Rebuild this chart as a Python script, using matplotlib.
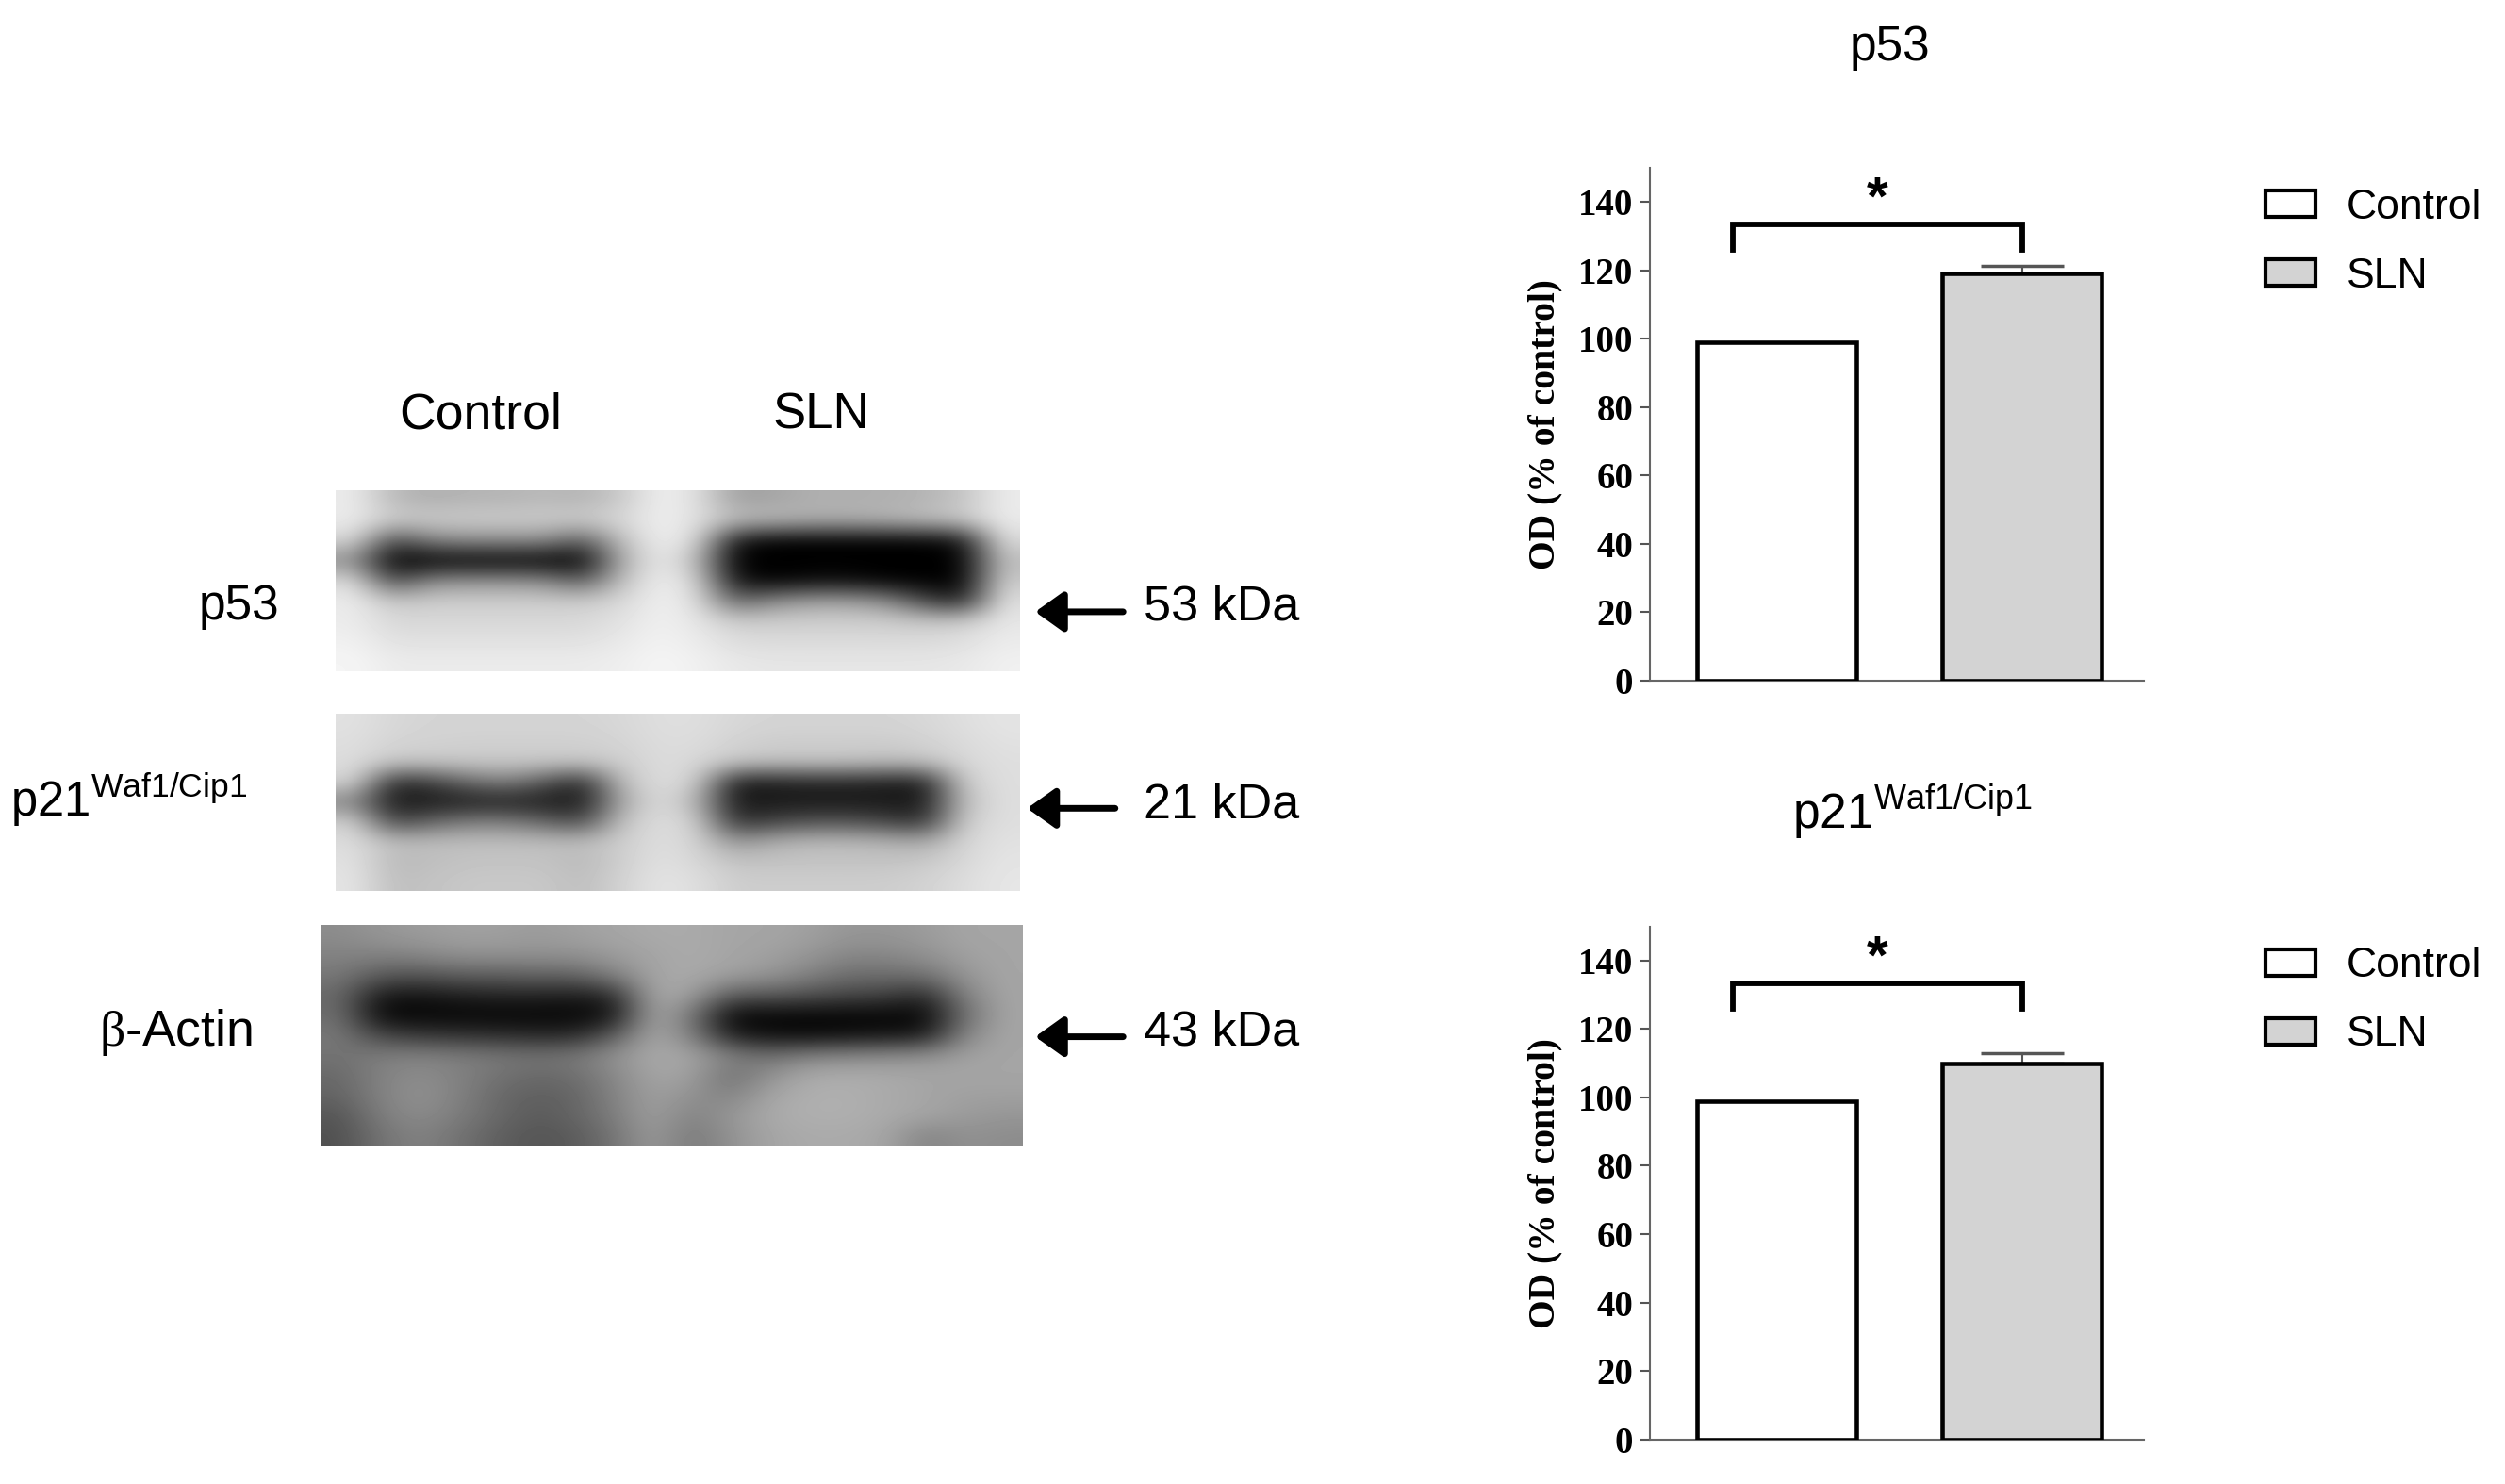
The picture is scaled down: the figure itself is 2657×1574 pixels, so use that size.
import numpy as np
import matplotlib
matplotlib.use('Agg')
import matplotlib.pyplot as plt
from matplotlib.patches import Patch

plt.rcParams['font.family'] = ['Liberation Sans', 'DejaVu Sans']
plt.rcParams['mathtext.fontset'] = 'custom'
plt.rcParams['mathtext.rm'] = 'Liberation Sans'
plt.rcParams['mathtext.sf'] = 'Liberation Serif'

# 막대 데이터
groups = ['Control', 'SLN']
p53_values = [99, 119]
p53_errors = [0, 2.2]
p21_values = [99, 110]
p21_errors = [0, 3]
yticks = [0, 20, 40, 60, 80, 100, 120, 140]
bar_colors = ['white', '#d3d3d3']

# 블롯 밝기값
blot_p53 = [
    [235, 185, 175, 180, 180, 185, 180, 200, 240, 225, 160, 165, 175, 175, 175, 180, 195, 235],
    [235, 205, 205, 205, 205, 205, 205, 215, 240, 225, 190, 185, 175, 175, 180, 190, 200, 235],
    [215, 70, 130, 140, 140, 140, 90, 190, 240, 220, 20, 0, 0, 0, 0, 0, 15, 220],
    [140, 0, 0, 0, 0, 0, 0, 170, 235, 190, 0, 0, 0, 0, 0, 0, 0, 190],
    [220, 70, 140, 145, 145, 140, 90, 190, 240, 215, 20, 0, 10, 10, 0, 0, 0, 205],
    [235, 200, 205, 205, 205, 205, 205, 215, 240, 225, 100, 140, 160, 160, 140, 70, 30, 225],
    [235, 215, 215, 215, 215, 215, 215, 225, 240, 230, 205, 205, 205, 205, 205, 200, 205, 230],
    [240, 225, 225, 225, 225, 225, 225, 232, 242, 235, 220, 218, 218, 218, 218, 218, 222, 235],
    [245, 235, 235, 235, 235, 235, 235, 238, 245, 240, 232, 230, 230, 230, 230, 230, 232, 240],
]
blot_p21 = [
    [225, 215, 212, 212, 212, 212, 212, 215, 222, 222, 215, 212, 212, 212, 212, 215, 222, 228],
    [222, 212, 210, 208, 208, 208, 208, 212, 220, 220, 210, 205, 205, 205, 205, 210, 218, 225],
    [220, 200, 200, 200, 200, 200, 200, 205, 220, 215, 200, 195, 195, 195, 190, 195, 215, 222],
    [215, 40, 60, 105, 125, 85, 35, 190, 222, 210, 25, 30, 35, 35, 30, 25, 205, 222],
    [130, 25, 25, 28, 30, 28, 25, 165, 222, 180, 25, 25, 25, 25, 25, 25, 190, 222],
    [210, 65, 100, 125, 125, 100, 70, 195, 222, 210, 45, 65, 80, 80, 65, 45, 205, 222],
    [220, 190, 190, 190, 190, 190, 190, 205, 222, 212, 150, 175, 185, 185, 180, 170, 212, 225],
    [225, 185, 190, 195, 195, 195, 185, 205, 225, 215, 195, 195, 195, 195, 195, 200, 215, 228],
    [228, 190, 195, 200, 200, 200, 190, 210, 228, 222, 205, 205, 205, 205, 205, 210, 220, 230],
]
blot_actin = [
    [140, 150, 155, 160, 160, 155, 160, 165, 170, 170, 165, 165, 160, 150, 150, 155, 165, 165],
    [130, 130, 135, 145, 145, 145, 145, 155, 165, 170, 165, 160, 150, 135, 135, 145, 160, 165],
    [120, 90, 85, 95, 95, 100, 100, 130, 165, 170, 160, 150, 130, 110, 110, 115, 150, 165],
    [105, 25, 20, 30, 35, 35, 30, 40, 170, 160, 90, 90, 80, 70, 65, 40, 130, 165],
    [110, 5, 5, 5, 5, 5, 5, 15, 170, 120, 5, 5, 5, 5, 5, 5, 110, 165],
    [120, 70, 55, 50, 45, 40, 40, 90, 170, 130, 30, 15, 10, 15, 20, 25, 135, 165],
    [115, 125, 130, 125, 120, 115, 120, 145, 170, 165, 130, 110, 130, 135, 140, 145, 160, 165],
    [105, 130, 140, 130, 115, 105, 110, 135, 165, 160, 110, 145, 170, 172, 170, 165, 165, 165],
    [100, 130, 145, 130, 105, 95, 100, 130, 160, 145, 130, 165, 175, 175, 170, 165, 160, 160],
    [85, 125, 140, 125, 105, 90, 100, 125, 160, 130, 150, 170, 175, 175, 170, 165, 155, 150],
    [80, 115, 130, 115, 95, 85, 90, 115, 155, 120, 145, 165, 170, 170, 165, 130, 145, 140],
]

W, H = 1568, 929  # 위치는 축소본 픽셀 기준


def fx(x):
    return x / W


def fy(y):
    return 1 - y / H


def add_axes_px(x0, y0, x1, y1):
    return fig.add_axes([fx(x0), fy(y1), fx(x1) - fx(x0), fy(y0) - fy(y1)])


def draw_blot(data, box):
    ax = add_axes_px(*box)
    ax.imshow(np.array(data), cmap='gray', vmin=0, vmax=255, aspect='auto', interpolation='bicubic')
    ax.axis('off')


def draw_bars(box, values, errors, title, title_x, title_y):
    ax = add_axes_px(*box)
    x = np.arange(len(groups))
    ax.bar(x, values, width=0.65, color=bar_colors, edgecolor='black', linewidth=3.3, zorder=3)
    ax.errorbar(x[1], values[1], yerr=[[0], [errors[1]]], color='#555555', lw=1.5,
                capsize=32, capthick=2.5, zorder=2)
    ax.set_xlim(-0.515, 1.498)
    ax.set_ylim(0, 150)
    ax.set_yticks(yticks)
    ax.set_xticks([])
    ax.tick_params(axis='y', length=8, width=1.5, color='#555555', pad=5)
    for lab in ax.get_yticklabels():
        lab.set_family('Liberation Serif')
        lab.set_weight('bold')
        lab.set_fontsize(28)
    ax.set_ylabel('OD (% of control)', family='Liberation Serif', weight='bold', fontsize=28.5)
    ax.yaxis.set_label_coords(-0.178, 0.5)
    ax.spines[['top', 'right']].set_visible(False)
    ax.spines[['left', 'bottom']].set_color('#666666')
    ax.spines[['left', 'bottom']].set_linewidth(1.5)

    # 유의성 표시
    ax.plot([-0.18, -0.18, 1.0, 1.0], [126, 133.5, 133.5, 126], color='black', lw=4.2,
            solid_joinstyle='miter', clip_on=False)
    ax.text(0.41, 133, '*', ha='center', va='bottom', fontsize=42, weight='bold')

    handles = [Patch(facecolor=c, edgecolor='black', linewidth=3) for c in bar_colors]
    ax.legend(handles, groups, loc='upper left', bbox_to_anchor=(1.246, 0.96), frameon=False,
              fontsize=32, handlelength=1.2, handleheight=0.6, handletextpad=0.74,
              labelspacing=0.72, borderpad=0, borderaxespad=0)
    fig.text(fx(title_x), fy(title_y), title, ha='center', va='center', fontsize=37)


fig = plt.figure(figsize=(26.57, 15.74), dpi=100)

# 왼쪽 블롯
draw_blot(blot_p53, (210, 307, 638, 420))
draw_blot(blot_p21, (210, 447, 638, 558))
draw_blot(blot_actin, (201, 579, 640, 717))

fig.text(fx(301), fy(260), 'Control', ha='center', va='center', fontsize=38.5)
fig.text(fx(514), fy(260), 'SLN', ha='center', va='center', fontsize=38)
fig.text(fx(175), fy(380), 'p53', ha='right', va='center', fontsize=37)
fig.text(fx(155), fy(501), r'p21$^{\mathrm{Waf1/Cip1}}$', ha='right', va='center', fontsize=36.5)
fig.text(fx(158), fy(646), r'$\mathsf{β}$-Actin', ha='right', va='center', fontsize=38.5)

for label, x0, x1, y, ty in [('53 kDa', 703, 648, 383, 380), ('21 kDa', 698, 643, 506, 504), ('43 kDa', 703, 648, 649, 646)]:
    fig.text(fx(716), fy(ty), label, ha='left', va='center', fontsize=37.5)
    fig.add_artist(matplotlib.patches.FancyArrowPatch(
        (fx(x0), fy(y)), (fx(x1), fy(y)), transform=fig.transFigure,
        arrowstyle='-|>,head_length=0.7,head_width=0.5', mutation_scale=26,
        lw=5, color='black', shrinkA=0, shrinkB=0))

# 오른쪽 막대그래프
draw_bars((1033, 105, 1342, 426), p53_values, p53_errors, 'p53', 1183, 30)
draw_bars((1033, 580, 1342, 901), p21_values, p21_errors, r'p21$^{\mathrm{Waf1/Cip1}}$', 1197, 508)

plt.savefig('out.png', dpi=100)
